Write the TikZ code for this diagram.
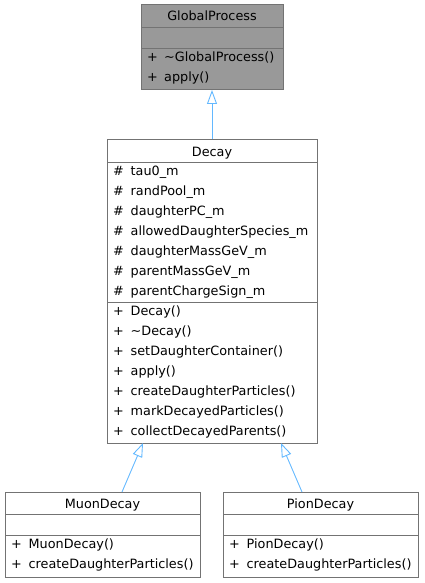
\documentclass[tikz,border=0pt]{standalone}
\usepackage{fontspec}
\setmainfont{DejaVu Sans}
\usetikzlibrary{arrows.meta,calc}
\definecolor{boxborder}{HTML}{737373}
\definecolor{gpfill}{HTML}{999999}
\definecolor{inhcol}{HTML}{63B8FF}
\tikzset{
  umlbox/.style={draw=boxborder, line width=1pt, anchor=north west, inner sep=0pt, outer sep=0pt},
  divider/.style={draw=boxborder, line width=1pt},
  txt/.style={font=\fontsize{12.8}{14}\selectfont, inner sep=0pt, text=black},
  inh/.style={draw=inhcol, line width=0.9pt, -{Triangle[open, length=14pt, width=10pt, line width=0.9pt]}},
}
\begin{document}
\begin{tikzpicture}[x=1pt, y=-1pt]
\useasboundingbox (0,0) rectangle (424,583);
% GlobalProcess
\node[umlbox, fill=gpfill, minimum width=142pt, minimum height=85pt] (gp) at (141,5) {};
\draw[divider] (141,28) -- (283,28);
\draw[divider] (141,49) -- (283,49);
\node[txt, anchor=base] (gpt) at (212,21) {GlobalProcess};
\node[txt, anchor=base west] (gp1s) at (147,62) {+};
\node[txt, anchor=base west] (gp1) at (164,62) {\textasciitilde GlobalProcess()};
\node[txt, anchor=base west] (gp2s) at (147,82) {+};
\node[txt, anchor=base west] (gp2) at (164,82) {apply()};
% Decay
\node[umlbox, fill=white, minimum width=210pt, minimum height=304pt] (decay) at (107,139) {};
\draw[divider] (107,162) -- (317,162);
\draw[divider] (107,302) -- (317,302);
\node[txt, anchor=base] (dt) at (212,156.5) {Decay};
\foreach \t [count=\i from 0] in {tau0\_m, randPool\_m, daughterPC\_m, allowedDaughterSpecies\_m, daughterMassGeV\_m, parentMassGeV\_m, parentChargeSign\_m}{
  \node[txt, anchor=base west] (da\i s) at (113,175+20*\i) {\#};
  \node[txt, anchor=base west] (da\i) at (130.5,175+20*\i) {\t};
}
\foreach \t [count=\i from 0] in {Decay(), \textasciitilde Decay(), setDaughterContainer(), apply(), createDaughterParticles(), markDecayedParticles(), collectDecayedParents()}{
  \node[txt, anchor=base west] (dm\i s) at (113,315+20*\i) {+};
  \node[txt, anchor=base west] (dm\i) at (130.5,315+20*\i) {\t};
}
% MuonDecay
\node[umlbox, fill=white, minimum width=195pt, minimum height=85pt] (muon) at (5,492) {};
\draw[divider] (5,514) -- (200,514);
\draw[divider] (5,535) -- (200,535);
\node[txt, anchor=base] (mt) at (102.5,508) {MuonDecay};
\node[txt, anchor=base west] (m1s) at (11,548) {+};
\node[txt, anchor=base west] (m1) at (28.5,548) {MuonDecay()};
\node[txt, anchor=base west] (m2s) at (11,568) {+};
\node[txt, anchor=base west] (m2) at (28.5,568) {createDaughterParticles()};
% PionDecay
\node[umlbox, fill=white, minimum width=195pt, minimum height=85pt] (pion) at (223,492) {};
\draw[divider] (223,514) -- (418,514);
\draw[divider] (223,535) -- (418,535);
\node[txt, anchor=base] (pt) at (320.5,508) {PionDecay};
\node[txt, anchor=base west] (p1s) at (229,548) {+};
\node[txt, anchor=base west] (p1) at (246.5,548) {PionDecay()};
\node[txt, anchor=base west] (p2s) at (229,568) {+};
\node[txt, anchor=base west] (p2) at (246.5,568) {createDaughterParticles()};
% connectors
\coordinate (decayL) at ($(decay.south west)+(36,0)$);
\coordinate (decayR) at ($(decay.south west)+(174,0)$);
\coordinate (muonTop) at ($(muon.north west)+(117,0)$);
\coordinate (pionTop) at ($(pion.north west)+(79,0)$);
\draw[inh] (decay.north) -- (gp.south);
\draw[inh] (muonTop) -- (decayL);
\draw[inh] (pionTop) -- (decayR);
\end{tikzpicture}
\end{document}
